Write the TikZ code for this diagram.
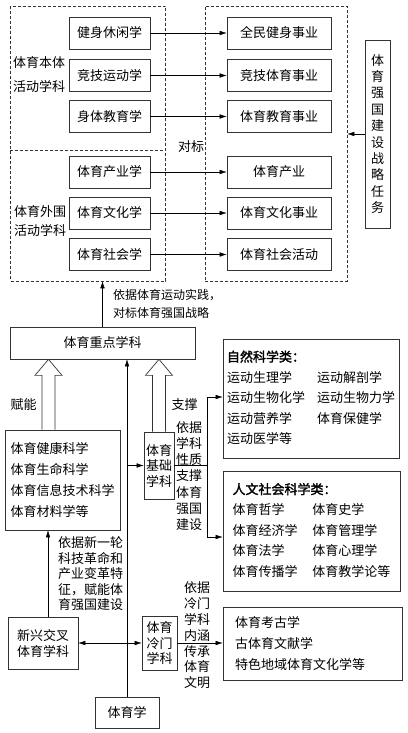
\documentclass[tikz,border=0pt]{standalone}
\usepackage{fontspec}
\newfontfamily\cjk[AutoFakeBold=2]{Noto Sans CJK SC}
\usetikzlibrary{arrows.meta,calc,positioning}
\tikzset{
  box/.style={draw=black!80,line width=.7pt,inner sep=1pt,font=\cjk\fontsize{13}{16}\selectfont},
  zone/.style={draw=black!80,dash pattern=on 3pt off 2pt,line width=.6pt,inner sep=0pt},
  txt/.style={inner sep=0pt,font=\cjk\fontsize{13}{16}\selectfont},
  fat/.style={draw=black!80,line width=.7pt},
  >={Latex[length=7pt,width=4.5pt]}
}
\newcommand{\fatarrow}[2]{%
\draw[fat]($(#1)+(-6.5,0)$)--($(#2)+(-6.5,16)$)--($(#2)+(-13.5,16)$)--(#2)--
($(#2)+(13.5,16)$)--($(#2)+(6.5,16)$)--($(#1)+(6.5,0)$);}
\begin{document}
\begin{tikzpicture}[x=1pt,y=-1pt]
\useasboundingbox(0,0)rectangle(407,733);
%dashed zones
\node[zone,minimum width=155,minimum height=275](zoneL)at(88,143.5){};
\node[zone,minimum width=142,minimum height=275](zoneR)at(276,143.5){};
\coordinate(split)at(0,150);
\draw[zone](zoneL.west|-split)--(zoneL.east|-split);
%disciplines and tasks
\foreach \i/\y/\a/\b in {1/33/健身休闲学/全民健身事业,2/75.5/竞技运动学/竞技体育事业,
3/116.5/身体教育学/体育教育事业,4/172/体育产业学/体育产业,
5/213/体育文化学/体育文化事业,6/254.5/体育社会学/体育社会活动}{
\node[box,minimum width=81,minimum height=32](d\i)at(109.5,\y){\a};
\node[box,minimum width=104,minimum height=32](t\i)at(279,\y){\b};
\draw[->](d\i)--(t\i);
}
\node[txt,align=center](ontL)at(39,75){体育本体\\[8pt]活动学科};
\node[txt,align=center](periL)at(40,221){体育外围\\[3pt]活动学科};
\node[txt](duibiao)at(191,147){对标};
\node[box,minimum width=25,minimum height=188,align=center,inner sep=0pt,
font=\cjk\fontsize{13}{16.4}\selectfont](task)at(377.5,134){体\\育\\强\\国\\建\\设\\战\\略\\任\\务};
\draw[->](task.west)--(task.west-|zoneR.east);
%key discipline
\node[box,minimum width=185,minimum height=32](key)at(102.5,343){体育重点学科};
\draw[->](key.north)--(key.north|-zoneL.south);
\node[txt,anchor=west,align=left,font=\cjk\fontsize{12}{18}\selectfont](basis)at(113,304){依据体育运动实践，\\对标体育强国战略};
%supporting disciplines
\node[box,minimum width=115,minimum height=100,align=left,
font=\cjk\fontsize{13}{20.7}\selectfont](hlth)at(62.5,480){体育健康科学\\体育生命科学\\体育信息技术科学\\体育材料学等};
\node[box,minimum width=30,minimum height=67,align=center,inner sep=0pt,
font=\cjk\fontsize{13}{15.5}\selectfont](jc)at(159,465.5){体育\\基础\\学科};
\coordinate(fx)at(48.5,0);
\fatarrow{hlth.north-|fx}{key.south-|fx}
\fatarrow{jc.north}{jc.north|-key.south}
\node[txt](fn)at(23.5,405){赋能};
\node[txt](zc)at(184.5,405){支撑};
\node[box,minimum width=64,minimum height=31](xue)at(127,712.5){体育学};
\draw[->](xue.north)--(xue.north|-key.south);
\draw[->](jc.west-|xue.north)--(jc.west);
\node[txt,align=center,font=\cjk\fontsize{13}{16.3}\selectfont](jcwhy)at(189,476){依据\\学科\\性质\\支撑\\体育\\强国\\建设};
%natural and social sciences
\node[box,minimum width=176,minimum height=119,font=\cjk\fontsize{13}{20.5}\selectfont](nat)at(311,398.5){%
\begin{tabular}{@{}p{90pt}@{}l@{}}
\textbf{自然科学类：}&\\
运动生理学&运动解剖学\\
运动生物化学&运动生物力学\\
运动营养学&体育保健学\\
运动医学等&
\end{tabular}};
\node[box,minimum width=177,minimum height=120,font=\cjk\fontsize{13}{20.5}\selectfont](hum)at(311.5,531){%
\begin{tabular}{@{}p{80pt}@{}l@{}}
\multicolumn{2}{@{}l@{}}{\textbf{人文社会科学类：}}\\
体育哲学&体育史学\\
体育经济学&体育管理学\\
体育法学&体育心理学\\
体育传播学&体育教学论等
\end{tabular}};
\coordinate(brT)at(207,397);
\coordinate(brB)at(207,537);
\draw(jc.east)--(jc.east-|brT);
\draw[<->](nat.west|-brT)--(brT)--(brB)--(hum.west|-brB);
%emerging and rare disciplines
\node[box,minimum width=70,minimum height=52,align=center,
font=\cjk\fontsize{13}{16}\selectfont](xx)at(43,643){新兴交叉\\体育学科};
\coordinate(ux)at(48,0);
\draw[->](xx.north-|ux)--(hlth.south-|ux);
\node[txt,anchor=west,align=left,font=\cjk\fontsize{13}{15.5}\selectfont](xxwhy)at(58,574){依据新一轮\\科技革命和\\产业变革特\\征，赋能体\\育强国建设};
\node[box,minimum width=35,minimum height=54,align=center,inner sep=0pt,
font=\cjk\fontsize{13}{15.5}\selectfont](lm)at(159.5,643){体育\\冷门\\学科};
\draw[<->](xx.east)--(lm.west);
\node[box,minimum width=179,minimum height=73,align=left,text width=155,inner xsep=12pt,
font=\cjk\fontsize{13}{21}\selectfont](kg)at(312.5,643.5){体育考古学\\古体育文献学\\特色地域体育文化学等};
\draw[->](lm.east)--(lm.east-|kg.west);
\node[txt,align=center,font=\cjk\fontsize{13}{15.8}\selectfont](lmwhy)at(197,635.5){依据\\冷门\\学科\\内涵\\传承\\体育\\文明};
\end{tikzpicture}
\end{document}
